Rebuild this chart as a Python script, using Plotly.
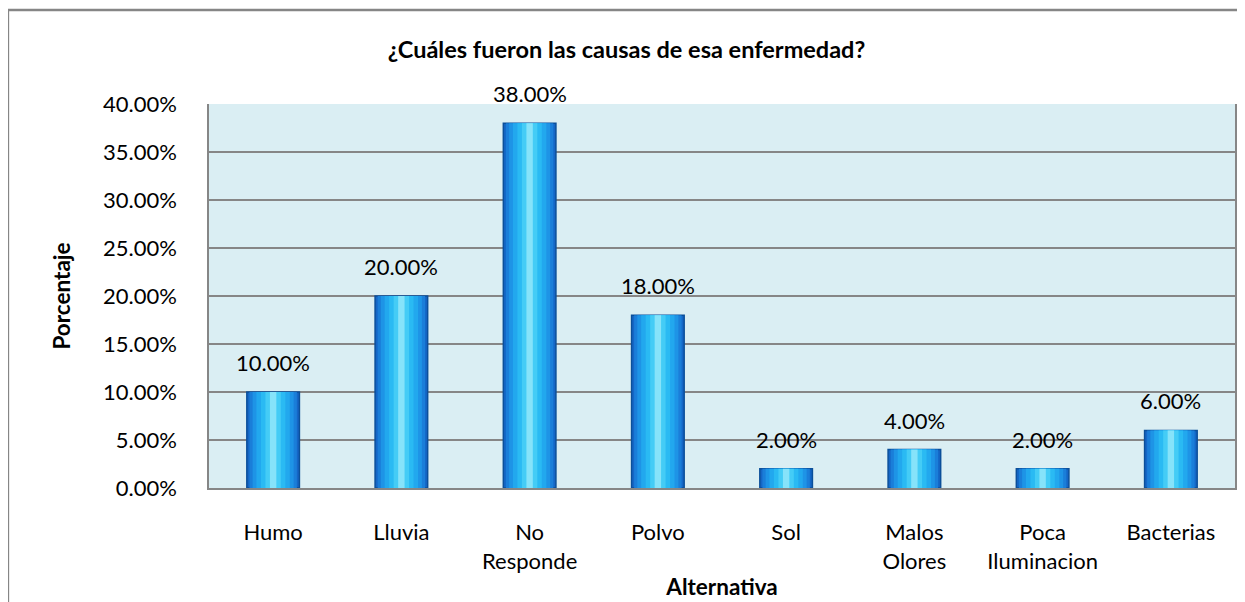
import plotly.graph_objects as go

categorias = ['Humo', 'Lluvia', 'No<br>Responde', 'Polvo', 'Sol',
              'Malos<br>Olores', 'Poca<br>Iluminacion', 'Bacterias']
porcentajes = [0.10, 0.20, 0.38, 0.18, 0.02, 0.04, 0.02, 0.06]
ticks_y = [0, 0.05, 0.10, 0.15, 0.20, 0.25, 0.30, 0.35, 0.40]

FONT = 'Lato, Open Sans, sans-serif'

fig = go.Figure()

# layered bars of shrinking width to fake the glossy horizontal gradient
capas = [
    (0.41, '#1566C6', dict(color='#0B4F9A', width=1.5)),
    (0.37, '#1A7ED9', dict(width=0)),
    (0.32, '#1E94E6', dict(width=0)),
    (0.26, '#22A8EE', dict(width=0)),
    (0.19, '#2ABAF3', dict(width=0)),
    (0.12, '#44CCF6', dict(width=0)),
    (0.05, '#86E3FA', dict(width=0)),
]
for ancho, color, borde in capas:
    fig.add_trace(go.Bar(
        x=categorias,
        y=porcentajes,
        width=ancho,
        marker=dict(color=color, line=borde),
        hoverinfo='skip'
    ))

for cat, v in zip(categorias, porcentajes):
    fig.add_annotation(
        x=cat, y=v, text=f'{v:.2%}', showarrow=False,
        yanchor='bottom', yshift=14,
        font=dict(size=22, color='black', family=FONT)
    )

fig.update_layout(
    width=1237,
    height=594,
    barmode='overlay',
    showlegend=False,
    title=dict(
        text='<b>¿Cuáles fueron las causas de esa enfermedad?</b>',
        x=0.5, xanchor='center', y=0.929, yanchor='middle',
        font=dict(size=23.5, color='black', family=FONT)
    ),
    font=dict(family=FONT, color='black'),
    paper_bgcolor='white',
    plot_bgcolor='#DAEEF3',
    margin=dict(l=201, r=10, t=96, b=114),
    xaxis=dict(
        title=dict(text='<b>Alternativa</b>', font=dict(size=22.5), standoff=6),
        tickfont=dict(size=22),
        showline=True, linecolor='#868686', linewidth=1.5,
        ticks='', ticklabelstandoff=24, automargin=False
    ),
    yaxis=dict(
        title=dict(text='<b>Porcentaje</b>', font=dict(size=22.5), standoff=26),
        range=[0, 0.40],
        tickvals=ticks_y,
        tickformat='.2%',
        tickfont=dict(size=22),
        showgrid=True, gridcolor='#868686', gridwidth=1.5,
        showline=True, linecolor='#868686', linewidth=1.5,
        mirror=True, automargin=False,
        ticks='', ticklabelstandoff=26, zeroline=False
    ),
    shapes=[dict(
        type='rect', xref='paper', yref='paper',
        x0=-0.196, x1=1.005, y0=-0.35, y1=1.245,
        line=dict(color='#868686', width=2.5), layer='below'
    )]
)

fig.write_html('out.html')
